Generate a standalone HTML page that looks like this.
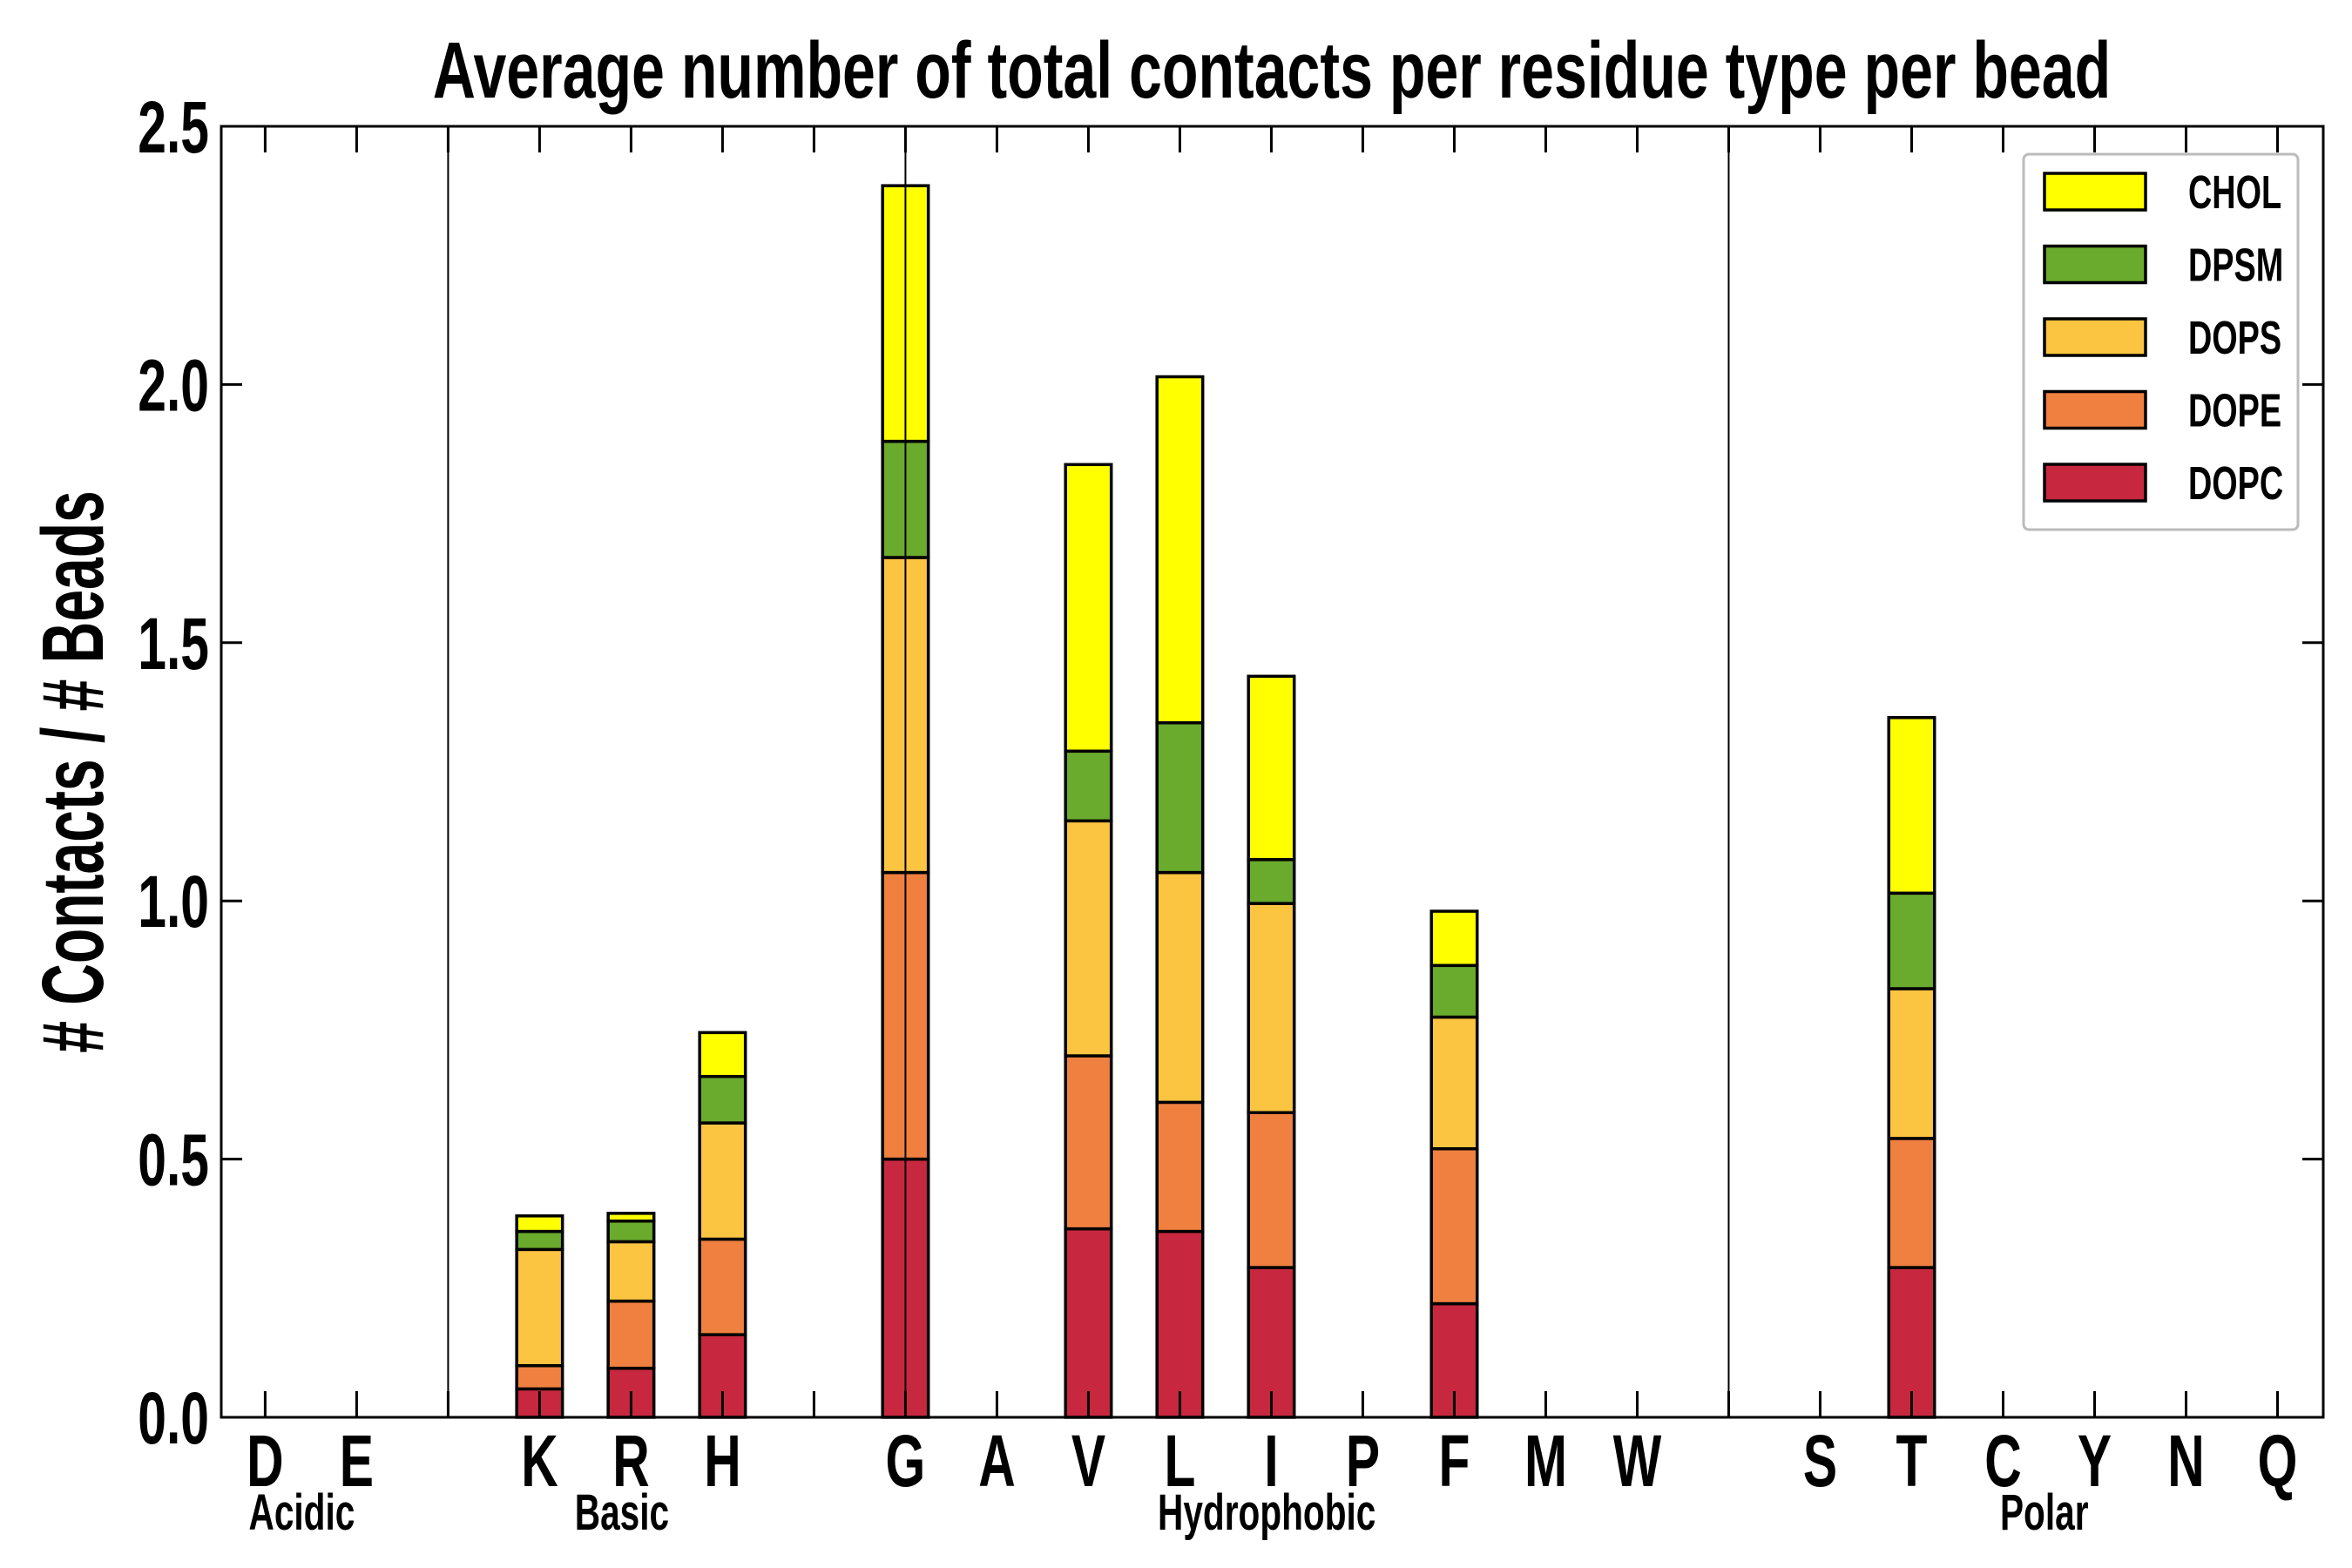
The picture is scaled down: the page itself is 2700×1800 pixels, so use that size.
<!DOCTYPE html>
<html><head><meta charset="utf-8"><style>
html,body{margin:0;padding:0;background:#fff;}
svg{display:block;}
text{font-family:"Liberation Sans Narrow","Liberation Sans",sans-serif;font-weight:bold;fill:#000;}
</style></head><body>
<svg id="chart" width="2700" height="1800" viewBox="0 0 2700 1800" xmlns="http://www.w3.org/2000/svg">
<text transform="translate(1460,112) scale(0.74,1)" font-size="92" text-anchor="middle">Average number of total contacts per residue type per bead</text>
<text transform="translate(118,886) rotate(-90) scale(0.66,1)" font-size="100" text-anchor="middle"># Contacts / # Beads</text>
<g id="plot"></g>
</svg>
<script>
const categories = ["D","E","","K","R","H","","G","A","V","L","I","P","F","M","W","","S","T","C","Y","N","Q"];
const series = ["DOPC","DOPE","DOPS","DPSM","CHOL"];
const colors = ["#c8283f","#f08040","#fbc441","#6aaa2c","#ffff00"];
const dopc = [0,0,0,0.055,0.095,0.16,0,0.50,0,0.365,0.36,0.29,0,0.22,0,0,0,0,0.29,0,0,0,0];
const dope = [0,0,0,0.045,0.13,0.185,0,0.555,0,0.335,0.25,0.30,0,0.30,0,0,0,0,0.25,0,0,0,0];
const dops = [0,0,0,0.225,0.115,0.225,0,0.61,0,0.455,0.445,0.405,0,0.255,0,0,0,0,0.29,0,0,0,0];
const dpsm = [0,0,0,0.035,0.04,0.09,0,0.225,0,0.135,0.29,0.085,0,0.10,0,0,0,0,0.185,0,0,0,0];
const chol = [0,0,0,0.03,0.015,0.085,0,0.495,0,0.555,0.67,0.355,0,0.105,0,0,0,0,0.34,0,0,0,0];
const yTicks = [0,0.5,1.0,1.5,2.0,2.5];
const yTickLabels = ["0.0","0.5","1.0","1.5","2.0","2.5"];
const separators = [2,7,16];
const groupNames = ["Acidic","Basic","Hydrophobic","Polar"];
const groupCenters = [0.4,3.9,10.95,19.45];

const NS="http://www.w3.org/2000/svg";
const L=254,R=2667,T=145,B=1627;
const xmin=-0.48,xmax=22.5,ymax=2.5;
const SX=0.7;
function xs(v){return L+(v-xmin)/(xmax-xmin)*(R-L);}
function ys(v){return B-v/ymax*(B-T);}
const g=document.getElementById('plot');
function mk(tag,attrs,parent){const e=document.createElementNS(NS,tag);for(const k in attrs)e.setAttribute(k,attrs[k]);(parent||g).appendChild(e);return e;}
function txt(x,y,size,anchor,parent){return mk('text',{transform:'translate('+x+','+y+') scale('+SX+',1)','font-size':size,'text-anchor':anchor},parent);}
const allSeries=[dopc,dope,dops,dpsm,chol];
const bw=(xs(0.25)-xs(-0.25));
categories.forEach((c,i)=>{
  let base=0;
  allSeries.forEach((arr,s)=>{
    const v=arr[i];
    const r=mk('rect',{x:xs(i)-bw/2,y:ys(base+v),width:bw,height:Math.max(ys(base)-ys(base+v),0),fill:colors[s],stroke:'#000','stroke-width':3.5});
    
    
    base+=v;
  });
});
separators.forEach(i=>{
  const l=mk('line',{x1:xs(i),x2:xs(i),y1:T,y2:B,stroke:'#000','stroke-width':2});
  
  
});
const frame=mk('rect',{x:L,y:T,width:R-L,height:B-T,fill:'none',stroke:'#000','stroke-width':3});


yTicks.forEach((v,k)=>{
  const y=ys(v);
  mk('line',{x1:L,x2:L+24,y1:y,y2:y,stroke:'#000','stroke-width':3});
  mk('line',{x1:R,x2:R-24,y1:y,y2:y,stroke:'#000','stroke-width':3});
  const t=txt(L-14,y+30,84,'end');
  t.textContent=yTickLabels[k];
  
  
});
categories.forEach((c,i)=>{
  const x=xs(i);
  mk('line',{x1:x,x2:x,y1:B,y2:B-30,stroke:'#000','stroke-width':3});
  mk('line',{x1:x,x2:x,y1:T,y2:T+30,stroke:'#000','stroke-width':3});
  if(c){
    const t=txt(x,1706,84,'middle');
    t.textContent=c;
    
    
  }
});
groupNames.forEach((n,k)=>{
  const t=txt(xs(groupCenters[k]),1756,58,'middle');
  t.textContent=n;
  
  
});
// legend
const lg=mk('g',{});


mk('rect',{x:2323,y:177,width:315,height:431,fill:'#fff',stroke:'#bbb','stroke-width':3,rx:6},lg);
for(let k=0;k<5;k++){
  const s=4-k, cy=220+k*83.5;
  const sw=mk('rect',{x:2347,y:cy-21,width:116,height:42,fill:colors[s],stroke:'#000','stroke-width':3.5},lg);
  
  
  const t=txt(2512,cy+19,54,'start',lg);
  t.textContent=series[s];
  
  
}
</script>
</body></html>
